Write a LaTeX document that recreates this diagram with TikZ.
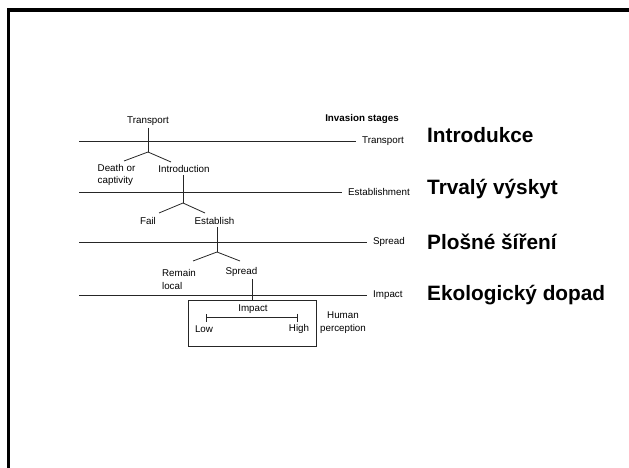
\documentclass[tikz,border=0pt]{standalone}
\usepackage{fontspec}
\setmainfont{Liberation Sans}
\usetikzlibrary{positioning, arrows.meta}

\tikzset{
  small/.style={font=\fontsize{9.8}{12.5}\selectfont, inner sep=2pt},
  smallbold/.style={font=\fontsize{9.8}{12.5}\selectfont\bfseries, inner sep=2pt},
  stage/.style={small, anchor=west, inner xsep=6pt},
  czech/.style={font=\fontsize{20.8}{24}\selectfont\bfseries, anchor=west, inner sep=0pt},
  tline/.style={draw=black!85, line width=0.8pt},
}

\begin{document}
\begin{tikzpicture}[x=1pt, y=-1pt]

  \useasboundingbox (0,0) rectangle (629,468);

  % Slide frame
  \draw[line width=3.3pt] (8.3,472) -- (8.3,10) -- (633,10);

  % Define nodes
  \node[smallbold, anchor=east] (stages) at (401,119) {Invasion stages};
  \node[stage] (sTrans) at (356,141) {Transport};
  \node[stage] (sEstab) at (342,192) {Establishment};
  \node[stage] (sSpread) at (367,242) {Spread};
  \node[stage] (sImpact) at (367,295) {Impact};

  \node[small] (trans) at (148,121) {Transport};
  \node[small, align=left] (death) at (116.5,175) {Death or\\captivity};
  \node[small] (intro) at (184,169) {Introduction};
  \node[small] (fail) at (148,221) {Fail};
  \node[small] (estab) at (214.5,221) {Establish};
  \node[small, align=left] (local) at (179,279.5) {Remain\\local};
  \node[small] (spread) at (241.5,272) {Spread};

  \node[draw=black!85, line width=0.8pt, minimum width=128pt, minimum height=46pt,
        inner sep=0pt] (box) at (252,323) {};
  \node[small] (impact) at (253,309.5) {Impact};
  \node[small] (low) at (204,329) {Low};
  \node[small] (high) at (299,329) {High};
  \node[small, align=center] (human) at (343,322.5) {Human\\perception};

  \node[czech] (cz1) at (427,135) {Introdukce};
  \node[czech] (cz2) at (427,189) {Trvalý výskyt};
  \node[czech] (cz3) at (427,242) {Plošné šíření};
  \node[czech] (cz4) at (427,295) {Ekologický dopad};

  % Stage lines
  \coordinate (l1) at (79,141);
  \coordinate (l2) at (79,192);
  \coordinate (l3) at (79,242);
  \coordinate (l4) at (79,295);
  \draw[tline] (l1) -- (sTrans.west);
  \draw[tline] (l2) -- (sEstab.west);
  \draw[tline] (l3) -- (sSpread.west);
  \draw[tline] (l4) -- (sImpact.west);

  % Forks
  \coordinate (f1) at (148,152);
  \coordinate (f1l) at (124,161);
  \coordinate (f1r) at (171,162);
  \coordinate (f2) at (183,203);
  \coordinate (f2l) at (159,213);
  \coordinate (f2r) at (205,213);
  \coordinate (f3) at (217,252);
  \coordinate (f3l) at (193,261);
  \coordinate (f3r) at (240,261);

  % Connect the nodes
  \draw[tline] (trans.south) -- (f1);
  \draw[tline] (f1l) -- (f1) -- (f1r);
  \draw[tline] (intro.south -| f2) -- (f2);
  \draw[tline] (f2l) -- (f2) -- (f2r);
  \draw[tline] (estab.south -| f3) -- (f3);
  \draw[tline] (f3l) -- (f3) -- (f3r);
  \draw[tline] (spread.south -| box.north) -- (box.north);

  % Impact scale
  \coordinate (lo) at (206,317.5);
  \coordinate (hi) at (298,317.5);
  \draw[tline, {Bar[width=8pt]}-{Bar[width=8pt]}] (lo) -- (hi);

\end{tikzpicture}
\end{document}
